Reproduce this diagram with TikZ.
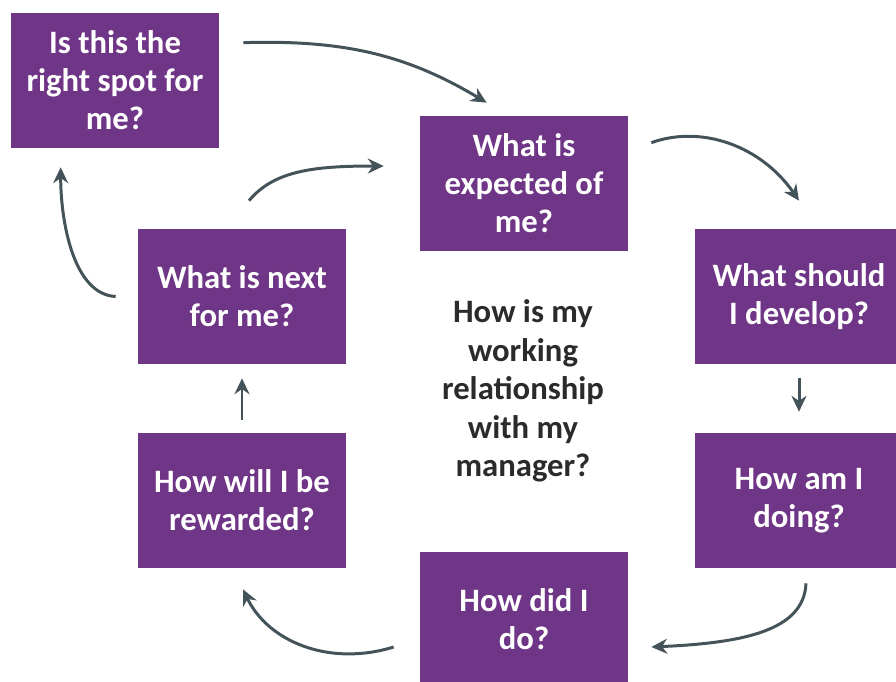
\documentclass[tikz,border=0pt]{standalone}
\usepackage{fontspec}
\setmainfont{Carlito}
\definecolor{careerpurple}{HTML}{6F3586}
\definecolor{arrowslate}{HTML}{44525A}
\definecolor{centergray}{HTML}{2B2B2B}
\usetikzlibrary{arrows.meta}
\tikzset{
    questionbox/.style={
        fill=careerpurple,
        text=white,
        minimum width=4.16cm,
        minimum height=2.7cm,
        inner sep=2pt,
        align=center,
        font=\bfseries\fontsize{18.6}{21.7}\selectfont
    },
    centertext/.style={
        text=centergray,
        align=center,
        font=\bfseries\fontsize{18.6}{21.9}\selectfont
    },
    cyclearrow/.style={
        -{Stealth[length=9pt,width=8.5pt]},
        draw=arrowslate,
        line width=1.7pt
    }
}

\begin{document}
\begin{tikzpicture}[x=0.02cm,y=-0.02cm]
        \clip (0,0) rectangle (896,681);

        \node[questionbox] (spot) at (115,80.5)
            {Is this the\\right spot for\\me?};
        \node[questionbox] (expect) at (524,183.5)
            {What is\\expected of\\me?};
        \node[questionbox] (develop) at (799,296.5)
            {What should\\I develop?};
        \node[questionbox] (doing) at (799,500.5)
            {How am I\\doing?};
        \node[questionbox] (did) at (524,619.5)
            {How did I\\do?};
        \node[questionbox] (rewarded) at (242,500.5)
            {How will I be\\rewarded?};
        \node[questionbox] (next) at (242,296.5)
            {What is next\\for me?};
        \node[centertext] (manager) at (523,391)
            {How is my\\working\\relationship\\with my\\manager?};

        \draw[cyclearrow] ([shift={(24,30)}]spot.north east)
            .. controls +(100,-3) and +(-80,-48) .. ([shift={(67,-13)}]expect.north west);
        \draw[cyclearrow] ([shift={(23,27)}]expect.north east)
            .. controls +(50,-18) and +(-38,-55) .. ([shift={(0,-28)}]develop.north);
        \draw[cyclearrow] ([shift={(0,14)}]develop.south) -- ([shift={(0,-21)}]doing.north);
        \draw[cyclearrow] ([shift={(7,15)}]doing.south)
            .. controls +(-2,48) and +(90,-4) .. ([shift={(23,27.5)}]did.east);
        \draw[cyclearrow] ([shift={(-26,27.5)}]did.west)
            .. controls +(-65,20) and +(25,52) .. ([shift={(1,21)}]rewarded.south);
        \draw[cyclearrow] ([shift={(0,-13)}]rewarded.north) -- ([shift={(0,14)}]next.south);
        \draw[cyclearrow] ([shift={(-22,0)}]next.west)
            .. controls +(-42,-2) and +(0,55) .. ([shift={(50,19)}]spot.south west);
        \draw[cyclearrow] ([shift={(7,-28)}]next.north)
            .. controls +(25,-30) and +(-70,0) .. ([shift={(-36,-17.5)}]expect.west);
    \end{tikzpicture}
\end{document}
